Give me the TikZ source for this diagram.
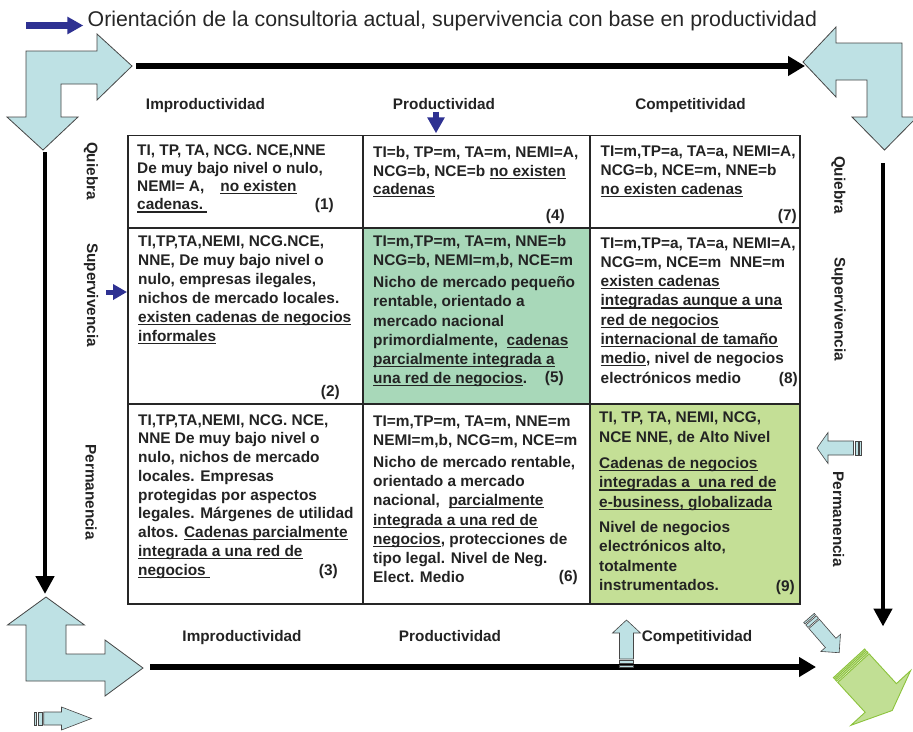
\documentclass[tikz,border=0pt]{standalone}
\usepackage{fontspec}
\setmainfont{Liberation Sans}
\usetikzlibrary{arrows.meta}
\definecolor{lblue}{RGB}{190,225,228}
\definecolor{ogray}{RGB}{70,70,70}
\definecolor{dblue}{RGB}{46,49,146}
\definecolor{mint}{RGB}{168,216,185}
\definecolor{olive}{RGB}{196,223,150}
\definecolor{agreen}{RGB}{140,195,60}
\definecolor{agreenfill}{RGB}{193,223,148}
\definecolor{txt}{RGB}{35,35,35}
\newcommand\myul[1]{\setbox0\hbox{#1}\rlap{\rule[-2.6pt]{\wd0}{1.1pt}}\box0}
\newcommand\tline[1]{\hbox{#1}}
\newcommand\cellv[2]{\vtop{\baselineskip=#1\relax\lineskiplimit=-30pt\lineskip=0pt #2}}
\newcommand\sarrow[7]{%
\begin{scope}[shift={#1},rotate=#2]
\path[#7] (0,-#6) rectangle ({0.04*#3},#6);
\path[#7] ({0.07*#3},-#6) rectangle ({0.14*#3},#6);
\path[#7] ({0.17*#3},-#6) -- ({#3-#4},-#6) -- ({#3-#4},-#5) -- (#3,0) -- ({#3-#4},#5) -- ({#3-#4},#6) -- ({0.17*#3},#6) -- cycle;
\end{scope}}
\tikzset{
  bigblue/.style={fill=lblue, draw=ogray, line width=0.8pt, line join=miter},
  sblue/.style={fill=lblue, draw=ogray, line width=0.6pt},
  sgreen/.style={fill=agreenfill, draw=agreen, line width=0.9pt},
  blackarrow/.style={draw=black, line width=6.5pt, -{Triangle[length=17pt,width=19pt]}},
  vblackarrow/.style={draw=black, line width=4.5pt, -{Triangle[length=18pt,width=18pt]}},
  pointer/.style={draw=dblue, -{Triangle[length=16pt,width=16.6pt]}},
  gridline/.style={draw=black!85, line width=1.2pt},
  celltext/.style={anchor=base west, inner sep=0pt, text=txt, font=\bfseries\fontsize{15.4}{19}\selectfont},
  cellnum/.style={anchor=base east, inner sep=0pt, text=txt, font=\bfseries\fontsize{15.4}{19}\selectfont},
  header/.style={anchor=base, inner sep=0pt, text=txt, font=\bfseries\fontsize{15.3}{18}\selectfont},
  side/.style={inner sep=0pt, text=txt, rotate=-90, font=\bfseries\fontsize{15.3}{18}\selectfont},
}
\begin{document}
\begin{tikzpicture}[x=1pt,y=-1pt]
\clip (0,0) rectangle (913,731);
\fill[white] (0,0) rectangle (913,731);

% title
\coordinate (tastart) at (26,25.5);
\coordinate (taend) at (83.3,25.5);
\draw[pointer, line width=6.7pt] (tastart) -- (taend);
\node[anchor=base west, inner sep=0pt, text=black!85, font=\fontsize{21.3}{25}\selectfont] (title) at (87.5,26.5) {Orientación de la consultoria actual, supervivencia con base en productividad};

% big bent arrows
\path[bigblue] (132,66) -- (97,100) -- (97,84) -- (61,84) -- (61,117) -- (78,117) -- (43,150) -- (7,117) -- (26,117) -- (26,51) -- (97,51) -- (97,34) -- cycle;
\path[bigblue] (803,62) -- (836,27) -- (836,43) -- (902,43) -- (902,117) -- (917,117) -- (884.5,150) -- (852,117) -- (867,117) -- (867,80) -- (836,80) -- (836,97) -- cycle;
\path[bigblue] (46,597) -- (84.5,625) -- (66,625) -- (66,654) -- (105,654) -- (105,640) -- (143,668) -- (105,696) -- (105,681) -- (26,681) -- (26,625) -- (7.5,625) -- cycle;

% black axis arrows
\coordinate (tA) at (136,66);  \coordinate (tB) at (805,66);
\coordinate (bA) at (150,667); \coordinate (bB) at (816,667);
\coordinate (lA) at (45,152);  \coordinate (lB) at (45,594);
\coordinate (rA) at (883,163); \coordinate (rB) at (883,626.5);
\draw[blackarrow] (tA) -- (tB);
\draw[blackarrow] (bA) -- (bB);
\draw[vblackarrow] (lA) -- (lB);
\draw[vblackarrow] (rA) -- (rB);

% striped arrows
\sarrow{(861,448)}{180}{44}{11}{15.5}{7}{sblue}
\sarrow{(626.5,667)}{90}{47}{13}{14}{7}{sblue}
\sarrow{(34,718.5)}{0}{57.5}{30}{11.5}{6.5}{sblue}
\sarrow{(809,618)}{-49}{46}{13}{13}{7}{sblue}
\begin{scope}[shift={(849,663.3)}, rotate=-47.5]
\path[sgreen] (0,-21.2) rectangle (1.7,21.2);
\path[sgreen] (3,-21.2) rectangle (5,21.2);
\path[sgreen] (6.5,-21.2) -- (47,-21.2) -- (47,-40.5) -- (64,0) -- (47,40.5) -- (47,21.2) -- (6.5,21.2) -- cycle;
\end{scope}

% small pointers
\coordinate (pA) at (436,111.7); \coordinate (pB) at (436,133.3);
\draw[pointer, line width=6.7pt] (pA) -- (pB);
\coordinate (sA) at (106,292); \coordinate (sB) at (127,292);
\draw[dblue, line width=5pt, -{Triangle[length=14pt,width=15pt]}] (sA) -- (sB);

% table
\fill[mint] (363,228) rectangle (590,404);
\fill[olive] (590,404) rectangle (800,604);
\draw[gridline] (128,135.5) rectangle (800,604);
\draw[gridline] (363,135.5) -- (363,604);
\draw[gridline] (590,135.5) -- (590,604);
\draw[gridline] (128,228) -- (800,228);
\draw[gridline] (128,404) -- (800,404);

% headers
\node[header] (h1) at (205.5,109.5) {Improductividad};
\node[header] (h2) at (444,109.5) {Productividad};
\node[header] (h3) at (690.5,109.5) {Competitividad};
\node[header] (b1) at (242,641) {Improductividad};
\node[header] (b2) at (450,641) {Productividad};
\node[header] (b3) at (697,641) {Competitividad};

% side labels
\node[side] (l1) at (91,171) {Quiebra};
\node[side] (l2) at (91,295) {Supervivencia};
\node[side] (l3) at (91,492) {Permanencia};
\node[side] (r1) at (838.5,185) {Quiebra};
\node[side] (r2) at (838.5,309) {Supervivencia};
\node[side] (r3) at (838.5,519) {Permanencia};

% cells
\node[celltext] (c1) at (137,155) {\cellv{18.3pt}{%
\tline{TI, TP, TA, NCG. NCE,NNE}
\tline{De muy bajo nivel o nulo,}
\tline{NEMI= A,\hspace{16pt}\myul{no existen}}
\tline{\myul{cadenas.\ }}}};
\node[cellnum] (n1) at (334,209.5) {(1)};

\node[celltext] (c4) at (373,157.7) {\cellv{18.3pt}{%
\tline{TI=b, TP=m, TA=m, NEMI=A,}
\tline{NCG=b, NCE=b \myul{no existen}}
\tline{\myul{cadenas}}}};
\node[cellnum] (n4) at (565,220.5) {(4)};

\node[celltext] (c7) at (600.5,156.7) {\cellv{19pt}{%
\tline{TI=m,TP=a, TA=a, NEMI=A,}
\tline{NCG=b, NCE=m, NNE=b}
\tline{\myul{no existen cadenas}}}};
\node[cellnum] (n7) at (797,220.5) {(7)};

\node[celltext] (c2) at (138,246.7) {\cellv{19pt}{%
\tline{TI,TP,TA,NEMI, NCG.NCE,}
\tline{NNE, De muy bajo nivel o}
\tline{nulo, empresas ilegales,}
\tline{nichos de mercado locales.}
\tline{\myul{existen cadenas de negocios}}
\tline{\myul{informales}}}};
\node[cellnum] (n2) at (340,396.5) {(2)};

\node[celltext] (c5) at (373,246.7) {\cellv{19.2pt}{%
\tline{TI=m,TP=m, TA=m, NNE=b}
\tline{NCG=b, NEMI=m,b, NCE=m}
\vskip 2.5pt
\tline{Nicho de mercado pequeño}
\tline{rentable, orientado a}
\tline{mercado nacional}
\tline{primordialmente,\ \ \myul{cadenas}}
\tline{\myul{parcialmente integrada a}}
\tline{\myul{una red de negocios}.}}};
\node[cellnum] (n5) at (564,382.5) {(5)};

\node[celltext] (c8) at (600.5,248) {\cellv{19.3pt}{%
\tline{TI=m,TP=a, TA=a, NEMI=A,}
\tline{NCG=m, NCE=m\ \ NNE=m}
\tline{\myul{existen cadenas}}
\tline{\myul{integradas aunque a una}}
\tline{\myul{red de negocios}}
\tline{\myul{internacional de tamaño}}
\tline{\myul{medio}, nivel de negocios}
\tline{electrónicos medio}}};
\node[cellnum] (n8) at (798,383.5) {(8)};

\node[celltext] (c3) at (138,425) {\cellv{18.75pt}{%
\tline{TI,TP,TA,NEMI, NCG. NCE,}
\tline{NNE De muy bajo nivel o}
\tline{nulo, nichos de mercado}
\tline{locales. Empresas}
\tline{protegidas por aspectos}
\tline{legales. Márgenes de utilidad}
\tline{altos. \myul{Cadenas parcialmente}}
\tline{\myul{integrada a una red de}}
\tline{\myul{negocios\ }}}};
\node[cellnum] (n3) at (338,575) {(3)};

\node[celltext] (c6) at (373,426) {\cellv{19.3pt}{%
\tline{TI=m,TP=m, TA=m, NNE=m}
\tline{NEMI=m,b, NCG=m, NCE=m}
\vskip 2.5pt
\tline{Nicho de mercado rentable,}
\tline{orientado a mercado}
\tline{nacional,\ \ \myul{parcialmente}}
\tline{\myul{integrada a una red de}}
\tline{\myul{negocios}, protecciones de}
\tline{tipo legal. Nivel de Neg.}
\tline{Elect. Medio}}};
\node[cellnum] (n6) at (578,581.5) {(6)};

\node[celltext] (c9) at (599,422.7) {\cellv{19.4pt}{%
\tline{TI, TP, TA, NEMI, NCG,}
\tline{NCE NNE, de Alto Nivel}
\vskip 7pt
\tline{\myul{Cadenas de negocios}}
\tline{\myul{integradas a\ \ una red de}}
\tline{\myul{e-business, globalizada}}
\vskip 5.5pt
\tline{Nivel de negocios}
\tline{electrónicos alto,}
\tline{totalmente}
\tline{instrumentados.}}};
\node[cellnum] (n9) at (795,591.5) {(9)};
\end{tikzpicture}
\end{document}
